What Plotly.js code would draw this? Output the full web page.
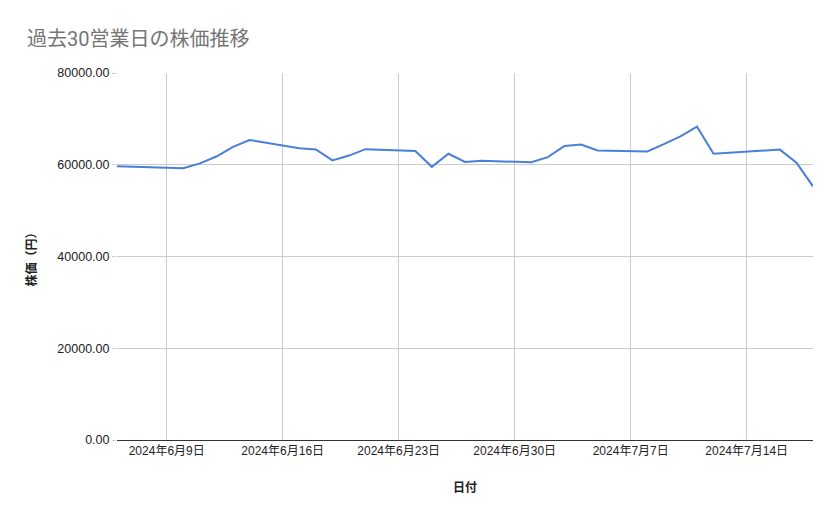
<!DOCTYPE html>
<html>
<head>
<meta charset="utf-8">
<script src="https://cdn.plot.ly/plotly-3.0.1.min.js"></script>
<style>
  html, body { margin: 0; padding: 0; background: #fff; }
  #chart { width: 839px; height: 519px; }
</style>
</head>
<body>
<div id="chart"></div>
<script>
// 過去30営業日 (7/15 海の日は休場)
const dates = [
    '2024-06-06', '2024-06-07',
    '2024-06-10', '2024-06-11', '2024-06-12', '2024-06-13', '2024-06-14',
    '2024-06-17', '2024-06-18', '2024-06-19', '2024-06-20', '2024-06-21',
    '2024-06-24', '2024-06-25', '2024-06-26', '2024-06-27', '2024-06-28',
    '2024-07-01', '2024-07-02', '2024-07-03', '2024-07-04', '2024-07-05',
    '2024-07-08', '2024-07-09', '2024-07-10', '2024-07-11', '2024-07-12',
    '2024-07-16', '2024-07-17', '2024-07-18',
];

const prices = [
    59700, 59550,
    59250, 60300, 61800, 63900, 65400,
    63600, 63350, 60950, 62000, 63400,
    63000, 59550, 62400, 60600, 60850,
    60550, 61650, 64100, 64400, 63100,
    62900, 64500, 66200, 68300, 62400,
    63300, 60450, 55300,
];

const yTicks = [0, 20000, 40000, 60000, 80000];

const baseFont = '"Liberation Sans", Arial, "Noto Sans CJK JP", sans-serif';
const gridColor = '#cccccc';

const traces = [{
    x: dates,
    y: prices,
    type: 'scatter',
    mode: 'lines',
    line: { color: '#4a7fd8', width: 2 },
    hoverinfo: 'skip',
    showlegend: false,
}];

const layout = {
    width: 839,
    height: 519,
    margin: { l: 117, r: 26, t: 73, b: 79 },
    paper_bgcolor: '#ffffff',
    plot_bgcolor: '#ffffff',
    showlegend: false,
    font: { family: baseFont, size: 12, color: '#222222' },
    title: {
        text: '過去30営業日の株価推移',
        xref: 'container', x: 27 / 839, xanchor: 'left',
        yref: 'container', y: 1 - 39 / 519, yanchor: 'middle',
        font: { family: 'Roboto, "Noto Sans CJK JP", sans-serif', size: 20, color: '#757575' },
    },
    xaxis: {
        type: 'date',
        range: ['2024-06-06', '2024-07-18'],
        tick0: '2024-06-09',
        dtick: 7 * 24 * 3600 * 1000,
        tickformat: '%Y年%-m月%-d日',
        showgrid: true,
        gridcolor: gridColor,
        gridwidth: 1,
        zeroline: false,
        showline: true,
        linecolor: '#333333',
        linewidth: 1,
        ticks: '',
        tickfont: { size: 12, color: '#222222' },
        title: {
            text: '日付',
            standoff: 26,
            font: { size: 12, color: '#222222', weight: 'bold' },
        },
        automargin: false,
        fixedrange: true,
    },
    yaxis: {
        range: [0, 80000],
        tickvals: yTicks,
        tickformat: '.2f',
        showgrid: true,
        gridcolor: gridColor,
        gridwidth: 1,
        zeroline: false,
        showline: false,
        ticks: 'outside',
        ticklen: 4,
        tickcolor: gridColor,
        tickfont: { size: 12.5, color: '#222222' },
        title: {
            text: '株価（円）',
            standoff: 18,
            font: { size: 12, color: '#222222', weight: 'bold' },
        },
        automargin: false,
        fixedrange: true,
    },
};

const config = {
    displayModeBar: false,
    staticPlot: true,
    responsive: false,
};

Plotly.newPlot('chart', traces, layout, config);
</script>
</body>
</html>
